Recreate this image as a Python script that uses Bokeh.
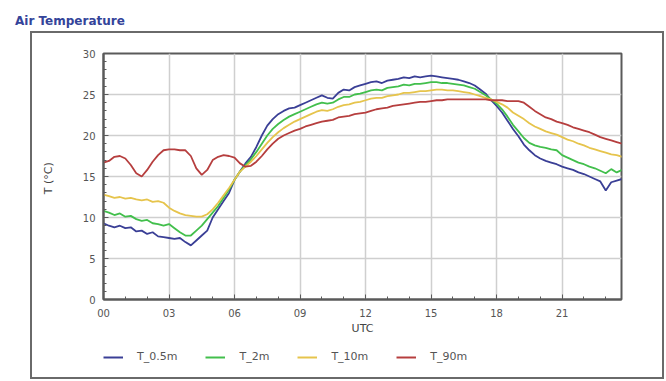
from bokeh.plotting import figure
from bokeh.models import FixedTicker, Legend, LegendItem, Range1d, Div
from bokeh.layouts import column
from bokeh.embed import file_html
from bokeh.resources import INLINE

hours = [i * 0.25 for i in range(96)]

t_05m = [9.3, 9.0, 8.8, 9.0, 8.7, 8.8, 8.3, 8.4, 8.0, 8.2, 7.7, 7.6, 7.5, 7.4, 7.5, 7.0,
         6.6, 7.2, 7.8, 8.4, 10.0, 11.0, 12.0, 13.0, 14.6, 15.6, 16.6, 17.4, 18.6, 20.0, 21.2, 22.0,
         22.6, 23.0, 23.3, 23.4, 23.7, 24.0, 24.3, 24.6, 24.9, 24.6, 24.5, 25.2, 25.6, 25.5, 25.9, 26.1,
         26.3, 26.5, 26.6, 26.4, 26.7, 26.8, 26.9, 27.1, 27.0, 27.2, 27.1, 27.2, 27.3, 27.2, 27.1, 27.0,
         26.9, 26.8, 26.6, 26.4, 26.1, 25.6, 25.1, 24.3, 23.6, 22.8, 21.8, 20.8, 19.9, 18.9, 18.2, 17.6,
         17.2, 16.9, 16.7, 16.5, 16.2, 16.0, 15.8, 15.5, 15.3, 15.0, 14.7, 14.4, 13.3, 14.3, 14.5, 14.7]

t_2m = [10.8, 10.6, 10.3, 10.5, 10.1, 10.2, 9.8, 9.6, 9.7, 9.3, 9.2, 9.0, 9.2, 8.7, 8.2, 7.8,
        7.8, 8.4, 9.0, 9.8, 10.6, 11.4, 12.4, 13.4, 14.6, 15.6, 16.4, 17.1, 18.0, 19.0, 20.0, 20.8,
        21.4, 21.9, 22.3, 22.6, 22.9, 23.2, 23.5, 23.8, 24.0, 23.9, 24.0, 24.4, 24.7, 24.7, 25.0, 25.1,
        25.3, 25.5, 25.6, 25.5, 25.8, 25.9, 26.0, 26.2, 26.1, 26.3, 26.3, 26.4, 26.5, 26.5, 26.4, 26.4,
        26.3, 26.2, 26.1, 25.9, 25.7, 25.3, 24.9, 24.4, 23.9, 23.2, 22.3, 21.3, 20.5, 19.7, 19.1, 18.8,
        18.6, 18.5, 18.3, 18.2, 17.6, 17.3, 17.0, 16.7, 16.5, 16.2, 16.0, 15.7, 15.4, 15.9, 15.5, 15.8]

t_10m = [12.8, 12.6, 12.4, 12.5, 12.3, 12.4, 12.2, 12.1, 12.2, 11.9, 12.0, 11.8, 11.2, 10.8, 10.5, 10.3,
         10.2, 10.1, 10.1, 10.4, 11.0, 11.8, 12.7, 13.6, 14.6, 15.6, 16.2, 16.8, 17.5, 18.3, 19.1, 19.8,
         20.4, 20.9, 21.3, 21.7, 22.0, 22.3, 22.6, 22.9, 23.1, 23.0, 23.2, 23.5, 23.7, 23.8, 24.0, 24.1,
         24.3, 24.5, 24.6, 24.6, 24.8, 24.9, 25.0, 25.2, 25.2, 25.3, 25.4, 25.4, 25.5, 25.6, 25.6, 25.5,
         25.5, 25.4, 25.3, 25.2, 25.0, 24.8, 24.6, 24.4, 24.1, 23.8, 23.4, 22.8, 22.4, 22.0, 21.5, 21.1,
         20.8, 20.5, 20.3, 20.1, 19.8, 19.5, 19.3, 19.0, 18.8, 18.5, 18.3, 18.1, 17.9, 17.7, 17.6, 17.4]

t_90m = [16.7, 16.9, 17.4, 17.5, 17.2, 16.4, 15.4, 15.0, 15.8, 16.8, 17.6, 18.2, 18.3, 18.3, 18.2, 18.2,
         17.5, 16.0, 15.2, 15.8, 17.0, 17.4, 17.6, 17.5, 17.3, 16.6, 16.2, 16.3, 16.8, 17.5, 18.3, 19.0,
         19.6, 20.0, 20.3, 20.6, 20.8, 21.1, 21.3, 21.5, 21.7, 21.8, 21.9, 22.2, 22.3, 22.4, 22.6, 22.7,
         22.8, 23.0, 23.2, 23.3, 23.4, 23.6, 23.7, 23.8, 23.9, 24.0, 24.1, 24.1, 24.2, 24.3, 24.3, 24.4,
         24.4, 24.4, 24.4, 24.4, 24.4, 24.4, 24.4, 24.3, 24.3, 24.3, 24.2, 24.2, 24.2, 24.0, 23.5, 23.0,
         22.6, 22.2, 22.0, 21.7, 21.5, 21.3, 21.0, 20.8, 20.6, 20.4, 20.1, 19.8, 19.6, 19.4, 19.2, 19.0]

series_names = ["T_0.5m", "T_2m", "T_10m", "T_90m"]
series_colors = ["#3a3f96", "#42bf4c", "#e6c44c", "#b63e3e"]
x_ticks = [0, 3, 6, 9, 12, 15, 18, 21]
x_tick_labels = ["00", "03", "06", "09", "12", "15", "18", "21"]
y_ticks = [0, 5, 10, 15, 20, 25, 30]

FONT = "DejaVu Sans"
all_series = [t_05m, t_2m, t_10m, t_90m]

title = Div(text='<span style="position:relative; top:4px">Air Temperature</span>',
            width=300, margin=(0, 0, 0, 15),
            styles={"font-family": FONT, "font-size": "12px", "font-weight": "bold",
                    "color": "#34449a", "padding-top": "12px", "line-height": "11px"})

# main chart
p = figure(width=630, height=304, output_backend="svg", toolbar_location=None,
           x_range=Range1d(0, 23.72), y_range=Range1d(0, 30),
           min_border_left=71, min_border_right=41, min_border_top=20, min_border_bottom=38)
p.background_fill_color = "white"
p.border_fill_color = "white"
p.outline_line_color = "#5a5a5a"
p.outline_line_width = 2

for ys, c in zip(all_series, series_colors):
    p.line(hours, ys, line_color=c, line_width=1.8)

p.xaxis.ticker = FixedTicker(ticks=x_ticks, minor_ticks=list(range(0, 24)))
p.xaxis.major_label_overrides = {t: l for t, l in zip(x_ticks, x_tick_labels)}
p.yaxis.ticker = FixedTicker(ticks=y_ticks, minor_ticks=list(range(0, 31)))

for ax in (p.xaxis[0], p.yaxis[0]):
    ax.axis_line_color = "#5a5a5a"
    ax.axis_line_width = 2
    ax.major_tick_in = 5
    ax.major_tick_out = 0
    ax.minor_tick_in = 3
    ax.minor_tick_out = 0
    ax.major_tick_line_color = "#5a5a5a"
    ax.minor_tick_line_color = "#5a5a5a"
    ax.major_label_text_font = FONT
    ax.major_label_text_font_size = "10px"
    ax.major_label_text_color = "#555555"
    ax.axis_label_text_font = FONT
    ax.axis_label_text_font_size = "11px"
    ax.axis_label_text_font_style = "normal"
    ax.axis_label_text_color = "#444444"

p.xaxis.axis_label = "UTC"
p.xaxis.major_label_standoff = 9
p.xaxis.axis_label_standoff = 2
p.yaxis.axis_label = "T  (°C)"
p.yaxis.major_label_standoff = 8
p.yaxis.axis_label_standoff = 25

p.xgrid.ticker = FixedTicker(ticks=x_ticks)
p.ygrid.ticker = FixedTicker(ticks=y_ticks)
p.grid.grid_line_color = "#cfcfcf"
p.grid.grid_line_width = 1.5

# legend strip (its lines lie outside the visible range; only the legend samples show)
lg = figure(width=630, height=40, output_backend="svg", toolbar_location=None,
            x_axis_location=None, y_axis_location=None,
            x_range=Range1d(-100, -99), y_range=Range1d(0, 30),
            min_border_left=0, min_border_right=0, min_border_top=0, min_border_bottom=0)
lg.grid.visible = False
lg.outline_line_color = None
lg.background_fill_color = "white"
lg.border_fill_color = "white"
items = []
for n, ys, c in zip(series_names, all_series, series_colors):
    r = lg.line(hours, ys, line_color=c, line_width=2)
    items.append(LegendItem(label=n, renderers=[r]))

legend = Legend(items=items, orientation="horizontal", location=(0, 14),
                border_line_alpha=0, background_fill_alpha=0,
                label_text_font=FONT, label_text_font_size="11px", label_text_color="#555555",
                glyph_width=20, glyph_height=12, label_standoff=14, spacing=28,
                padding=0, margin=0)
lg.add_layout(legend)

panel = column(p, lg, spacing=0, margin=(8, 0, 0, 30), styles={"border": "2px solid #6a6a6a"})

open("out.html", "w").write(file_html(column(title, panel, spacing=0), INLINE))
